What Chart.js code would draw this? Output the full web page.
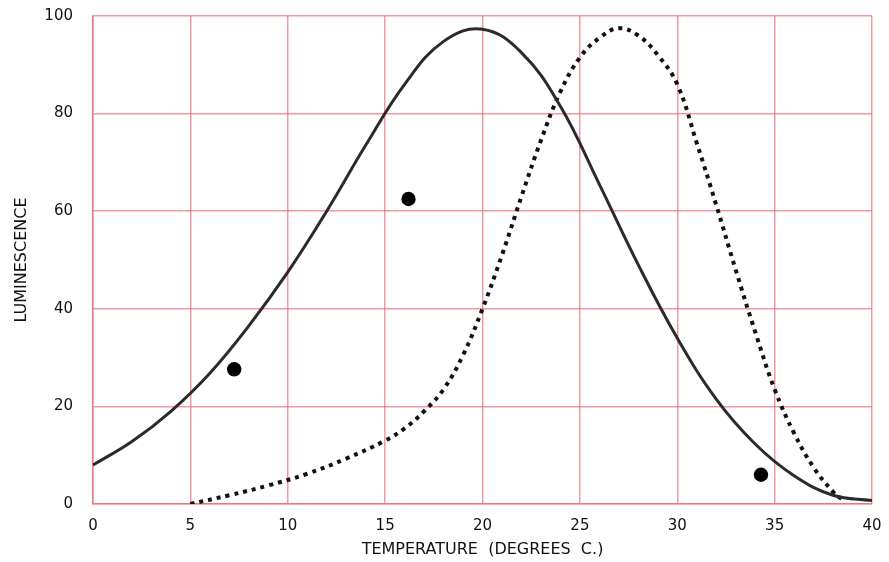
<!DOCTYPE html>
<html>
<head>
<meta charset="utf-8">
<script src="https://cdn.jsdelivr.net/npm/chart.js@4/dist/chart.umd.min.js"></script>
<style>
  html, body { margin: 0; padding: 0; background: #fff; }
  #wrap { width: 889px; height: 562px; }
</style>
</head>
<body>
<div id="wrap"><canvas id="lumChart"></canvas></div>
<script>
// 実線カーブ (温度, 発光量)
var tempA = [0, 2, 4, 6, 8, 10, 12, 14, 16, 18, 20, 22, 24, 26, 28, 30, 32, 34, 36, 38, 40];
var lumA  = [8, 12.8, 19, 26.8, 36.5, 47.5, 60, 73.5, 86, 94.8, 97.3, 92.5, 81.5, 65.5, 49, 34, 21.5, 12.3, 5.8, 1.8, 0.7];

// 点線カーブ
var tempB = [5, 7, 9, 11, 13, 15, 16, 17, 18, 19, 20, 21, 22, 23, 24, 25, 26, 27, 28, 29, 30, 31, 32, 33, 34, 35, 36, 37, 38, 38.5];
var lumB  = [0, 1.8, 3.8, 6.2, 9.3, 13, 15.5, 19, 23.5, 30.5, 40, 51, 63, 74.5, 84.5, 91.5, 95.5, 97.5, 96, 92, 86, 74, 61.3, 48, 35.3, 23.5, 14.5, 7.5, 2.5, 0.8];

// 測定点
var tempPts = [7.25, 16.2, 34.3];
var lumPts  = [27.6, 62.5, 6];

// 目盛り
var xTicks = [0, 5, 10, 15, 20, 25, 30, 35, 40];
var yTicks = [0, 20, 40, 60, 80, 100];

function toXY(xs, ys) {
	return xs.map(function(x, i) { return { x: x, y: ys[i] }; });
}

(function() {
	var ctx = document.getElementById('lumChart').getContext('2d');
	var tickFont = { family: '"DejaVu Sans", sans-serif', size: 15 };
	var titleFont = { family: '"DejaVu Sans", sans-serif', size: 16 };
	var gridColor = 'rgba(232, 100, 112, 0.65)';

	var config = {
		type: 'scatter',
		data: {
			datasets: [{
				data: toXY(tempA, lumA),
				showLine: true,
				borderColor: '#2b2b2b',
				borderWidth: 3,
				tension: 0.4,
				pointRadius: 0
			}, {
				data: toXY(tempB, lumB),
				showLine: true,
				borderColor: '#111',
				borderWidth: 4,
				borderDash: [4, 5],
				tension: 0.4,
				pointRadius: 0
			}, {
				data: toXY(tempPts, lumPts),
				showLine: false,
				pointRadius: 7.2,
				pointBackgroundColor: '#000',
				pointBorderWidth: 0
			}]
		},
		options: {
			responsive: true,
			maintainAspectRatio: false,
			animation: false,
			layout: { padding: 0 },
			plugins: { legend: { display: false }, tooltip: { enabled: false } },
			scales: {
				x: {
					type: 'linear',
					min: 0,
					max: 40,
					afterBuildTicks: function(scale) {
						scale.ticks = xTicks.map(function(v) { return { value: v }; });
					},
					// 余白は固定値で指定
					afterFit: function(scale) {
						scale.height = 58;
						scale.paddingLeft = 0;
						scale.paddingRight = 17;
					},
					grid: { color: gridColor, lineWidth: 1.5, drawTicks: false },
					border: { color: gridColor, width: 1.5 },
					ticks: { color: '#111', font: tickFont, padding: 13, maxRotation: 0 },
					title: {
						display: true,
						text: 'TEMPERATURE  (DEGREES  C.)',
						color: '#111',
						font: titleFont,
						padding: { top: 0, bottom: 2.5 }
					}
				},
				y: {
					type: 'linear',
					min: 0,
					max: 100,
					afterBuildTicks: function(scale) {
						scale.ticks = yTicks.map(function(v) { return { value: v }; });
					},
					afterFit: function(scale) {
						scale.width = 93;
						scale.paddingTop = 16;
						scale.paddingBottom = 0;
					},
					grid: { color: gridColor, lineWidth: 1.5, drawTicks: false },
					border: { color: gridColor, width: 1.5 },
					ticks: { color: '#111', font: tickFont, padding: 20 },
					title: {
						display: true,
						text: 'LUMINESCENCE',
						color: '#111',
						font: titleFont,
						padding: { top: 12.5, bottom: 0 }
					}
				}
			}
		}
	};

	new Chart(ctx, config);
})();
</script>
</body>
</html>
